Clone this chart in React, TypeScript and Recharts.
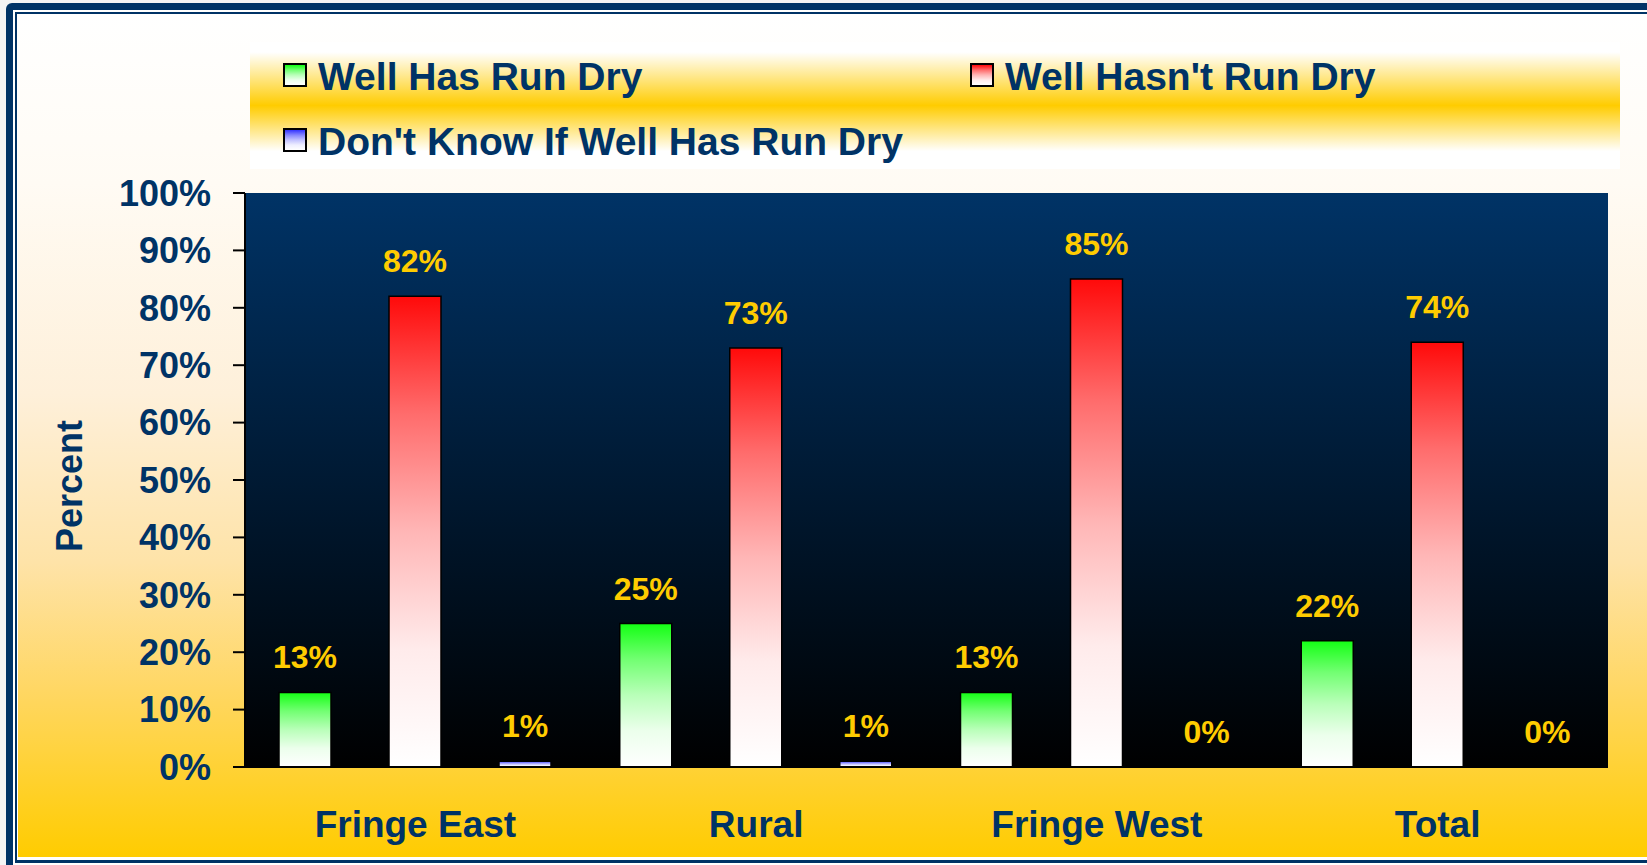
import React from 'react';
import {
  BarChart,
  Bar,
  XAxis,
  YAxis,
  CartesianGrid,
  LabelList,
  Legend,
  ReferenceArea,
} from 'recharts';

// ---- data ----
const categories = ['Fringe East', 'Rural', 'Fringe West', 'Total'];
const hasRunDry = [13, 25, 13, 22];
const hasntRunDry = [82, 73, 85, 74];
const dontKnow = [1, 1, 0, 0];
const seriesKeys = ['dry', 'notDry', 'unknown'];
const seriesNames = ['Well Has Run Dry', "Well Hasn't Run Dry", "Don't Know If Well Has Run Dry"];
const seriesTopColors = ['#14FF14', '#FF0A0A', '#3333FF'];
const yTicks = [0, 10, 20, 30, 40, 50, 60, 70, 80, 90, 100];
const boundaryTicks = [0, 1, 2, 3, 4];

const data = categories.map((c, i) => ({
  category: c,
  dry: hasRunDry[i],
  notDry: hasntRunDry[i],
  unknown: dontKnow[i],
}));

const NAVY = '#003366';
const FONT = "'Liberation Sans', Arial, Helvetica, sans-serif";
const pct = (v: any) => `${v}%`;

// gradient stops: fraction of blend toward white at each offset
const gradOffsets = [0, 0.25, 0.5, 0.75, 1];
const gradWhiten = [0, 0.4, 0.7, 0.92, 1];
const mixWhite = (hex: string, f: number) => {
  const n = parseInt(hex.slice(1), 16);
  const r = (n >> 16) & 255;
  const g = (n >> 8) & 255;
  const b = n & 255;
  const m = (c: number) => Math.round(c + (255 - c) * f);
  return `rgb(${m(r)},${m(g)},${m(b)})`;
};
const cssGradient = (hex: string) =>
  `linear-gradient(to bottom, ${gradOffsets
    .map((o, k) => `${mixWhite(hex, gradWhiten[k])} ${o * 100}%`)
    .join(', ')})`;

const LegendBox = (props: any) => {
  const payload: any[] = props.payload || [];
  return (
    <div
      style={{
        position: 'relative',
        width: 1370,
        height: 127,
        background:
          'linear-gradient(to bottom, #FFFFFF 0%, #FFFFFF 8%, #FFCC00 50%, #FFFFFF 86%, #FFFFFF 100%)',
        fontFamily: FONT,
      }}
    >
      {payload.map((p: any, idx: number) => {
        let i = seriesKeys.indexOf(p.dataKey);
        if (i < 0) i = idx;
        const col = i === 1 ? 1 : 0;
        const row = i === 2 ? 1 : 0;
        return (
          <div
            key={String(p.dataKey)}
            style={{
              position: 'absolute',
              left: col ? 720 : 33,
              top: (row ? 98 : 33) - 22,
              height: 44,
              display: 'flex',
              alignItems: 'center',
              whiteSpace: 'nowrap',
            }}
          >
            <div
              style={{
                width: 20,
                height: 20,
                border: '2px solid #000',
                background: cssGradient(seriesTopColors[i]),
                marginRight: 11,
              }}
            />
            <span
              style={{
                fontSize: 39,
                fontWeight: 'bold',
                color: NAVY,
                paddingTop: 4,
              }}
            >
              {p.value}
            </span>
          </div>
        );
      })}
    </div>
  );
};

const PercentLabel = (props: any) => {
  const vb = props.viewBox || { x: 0, y: 193, width: 245, height: 574 };
  const cx = vb.x + 69;
  const cy = vb.y + vb.height / 2 + 6;
  return (
    <text
      x={cx}
      y={cy}
      transform={`rotate(-90 ${cx} ${cy})`}
      textAnchor="middle"
      dominantBaseline="central"
      fill={NAVY}
      fontSize={36}
      fontWeight="bold"
      fontFamily={FONT}
    >
      Percent
    </text>
  );
};

export default function App() {
  return (
    <div
      style={{
        position: 'absolute',
        left: 0,
        top: 0,
        width: 1647,
        height: 865,
        overflow: 'hidden',
        background: '#F4F4F4',
      }}
    >
      <div style={{ position: 'absolute', left: 6, top: 3, width: 2000, height: 2000, background: NAVY, borderRadius: 6 }} />
      <div style={{ position: 'absolute', left: 13, top: 10, width: 2000, height: 855, background: '#FFFFFF' }} />
      <div style={{ position: 'absolute', left: 15, top: 12, width: 2000, height: 851, background: NAVY }} />
      <div style={{ position: 'absolute', left: 17, top: 14, width: 2000, height: 846, background: '#FFFFFF' }} />
      <div
        style={{
          position: 'absolute',
          left: 18,
          top: 15,
          width: 2000,
          height: 842,
          background:
            'linear-gradient(to bottom, #FFFFFF 0%, #FFFBF4 20%, #FEF0DA 45%, #FEE3A8 65%, #FFD764 80%, #FFCC00 100%)',
        }}
      />
      <div style={{ position: 'absolute', left: 0, top: 0 }}>
        <BarChart
          width={1647}
          height={865}
          data={data}
          margin={{ top: 193, right: 39, bottom: 0, left: 0 }}
          barSize={52}
          barGap={58}
        >
          <defs>
            <linearGradient id="plotBg" x1="0" y1="0" x2="0" y2="1">
              <stop offset="0%" stopColor="#003366" />
              <stop offset="100%" stopColor="#000000" />
            </linearGradient>
            {seriesKeys.map((k, i) => (
              <linearGradient key={k} id={`grad-${k}`} x1="0" y1="0" x2="0" y2="1">
                {gradOffsets.map((o, j) => (
                  <stop key={j} offset={`${o * 100}%`} stopColor={mixWhite(seriesTopColors[i], gradWhiten[j])} />
                ))}
              </linearGradient>
            ))}
          </defs>
          <CartesianGrid
            xAxisId={0}
            horizontal={false}
            vertical={false}
            fill="url(#plotBg)"
            fillOpacity={1}
          />
          <XAxis
            xAxisId={0}
            type="number"
            domain={[0, 4]}
            ticks={boundaryTicks}
            allowDataOverflow
            tick={false}
            tickSize={13}
            height={0}
            axisLine={false}
            tickLine={{ stroke: '#000', strokeWidth: 2 }}
          />
          <XAxis
            xAxisId={1}
            dataKey="category"
            type="category"
            height={98}
            interval={0}
            tickLine={false}
            tickSize={0}
            tickMargin={44}
            axisLine={{ stroke: '#000', strokeWidth: 2 }}
            tick={{ fill: NAVY, fontSize: 37, fontWeight: 'bold', fontFamily: FONT }}
          />
          <YAxis
            width={245}
            domain={[0, 100]}
            ticks={yTicks}
            interval={0}
            tickFormatter={pct}
            tickSize={12}
            tickMargin={22}
            axisLine={{ stroke: '#000', strokeWidth: 2 }}
            tickLine={{ stroke: '#000', strokeWidth: 2 }}
            tick={{ fill: NAVY, fontSize: 36, fontWeight: 'bold', fontFamily: FONT }}
            label={{ content: (p: any) => <PercentLabel {...p} /> }}
          />
          <Legend
            layout="horizontal"
            verticalAlign="middle"
            align="center"
            content={(p: any) => <LegendBox {...p} />}
            wrapperStyle={{ position: 'absolute', top: 42, left: 250, width: 1370, height: 127 }}
          />
          {seriesKeys.map((k, i) => (
            <Bar
              key={k}
              xAxisId={1}
              dataKey={k}
              name={seriesNames[i]}
              fill={`url(#grad-${k})`}
              stroke="#000"
              strokeWidth={1.5}
              minPointSize={(v: any) => (Number(v) === 0 ? 0.5 : 0)}
              isAnimationActive={false}
            >
              <LabelList
                dataKey={k}
                position="top"
                offset={24}
                formatter={pct}
                fill="#FFCC00"
                fontSize={32}
                fontWeight="bold"
                fontFamily={FONT}
              />
            </Bar>
          ))}
          <ReferenceArea
            xAxisId={0}
            x1={0}
            x2={4}
            y1={0}
            y2={100}
            fill="none"
            stroke="#000"
            strokeWidth={2}
          />
        </BarChart>
      </div>
    </div>
  );
}
